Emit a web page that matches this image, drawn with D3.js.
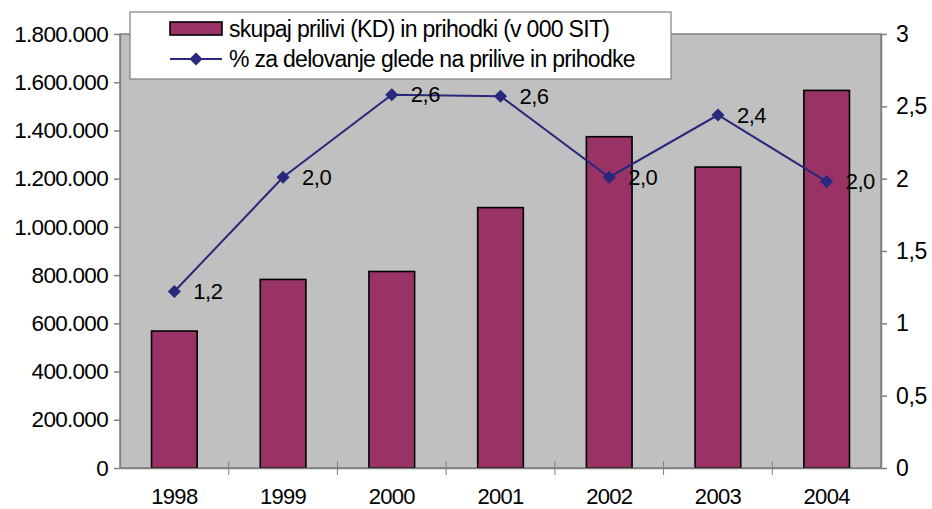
<!DOCTYPE html>
<html>
<head>
<meta charset="utf-8">
<script src="https://cdnjs.cloudflare.com/ajax/libs/d3/7.8.5/d3.min.js"></script>
<style>
  body { margin: 0; background: #fff; }
  svg text { font-family: "Liberation Sans", Arial, sans-serif; fill: #000; }
</style>
</head>
<body>
<svg id="chart" width="932" height="509"></svg>
<script>
// data
var years = ["1998", "1999", "2000", "2001", "2002", "2003", "2004"];
var prilivi = [568000, 782000, 815000, 1080000, 1374000, 1248000, 1566000];
var odstotek = [1.22, 2.01, 2.58, 2.57, 2.01, 2.44, 1.98];
var odstotekLabels = ["1,2", "2,0", "2,6", "2,6", "2,0", "2,4", "2,0"];
var leftTicks = [0, 200000, 400000, 600000, 800000, 1000000, 1200000, 1400000, 1600000, 1800000];
var rightTicks = [0, 0.5, 1, 1.5, 2, 2.5, 3];
var legendLabels = ["skupaj prilivi (KD) in prihodki (v 000 SIT)", "% za delovanje glede na prilive in prihodke"];

// plot box (note: "top" is taken by window.top, so prefixed names)
var pL = 120, pR = 881, pT = 34, pB = 468;
var barColor = "#993366", lineColor = "#28287c";

var svg = d3.select("#chart");

var x = d3.scaleBand().domain(years).range([pL, pR]).paddingInner(0.58).paddingOuter(0.29);
var xCat = d3.scaleBand().domain(years).range([pL, pR]);
var yL = d3.scaleLinear().domain([0, 1800000]).range([pB, pT]);
var yR = d3.scaleLinear().domain([0, 3]).range([pB, pT]);

var fmtL = function(d){ return d3.format(",")(d).replace(/,/g, "."); };
var fmtR = function(d){ return String(d).replace(".", ","); };

// plot area
svg.append("rect")
  .attr("x", pL).attr("y", pT)
  .attr("width", pR - pL).attr("height", pB - pT)
  .attr("fill", "#c0c0c0").attr("stroke", "#808080").attr("stroke-width", 1.5);

// bars
svg.selectAll("rect.bar")
  .data(prilivi)
  .enter()
  .append("rect")
    .attr("class", "bar")
    .attr("x", function(d, i){ return x(years[i]); })
    .attr("y", function(d){ return yL(d); })
    .attr("width", x.bandwidth())
    .attr("height", function(d){ return pB - yL(d); })
    .attr("fill", barColor)
    .attr("stroke", "#000")
    .attr("stroke-width", 1.6);

// left axis
var axL = svg.append("g")
  .attr("transform", "translate(" + pL + ",0)")
  .call(d3.axisLeft(yL).tickValues(leftTicks).tickFormat(fmtL).tickSize(6).tickSizeOuter(0));
axL.selectAll("text").attr("font-size", 22.5).attr("letter-spacing", -0.7).attr("x", -12);

// right axis
var axR = svg.append("g")
  .attr("transform", "translate(" + pR + ",0)")
  .call(d3.axisRight(yR).tickValues(rightTicks).tickFormat(fmtR).tickSize(6).tickSizeOuter(0));
axR.selectAll("text").attr("font-size", 23).attr("letter-spacing", -0.4).attr("x", 15);

// bottom axis: ticks between categories
var axB = svg.append("g")
  .attr("transform", "translate(0," + pB + ")")
  .call(d3.axisBottom(xCat).tickSize(0).tickSizeOuter(0));
axB.selectAll("text").attr("font-size", 22).attr("letter-spacing", -0.7).attr("dy", 0).attr("y", 36);
axB.selectAll(".sep")
  .data(years.slice(1))
  .enter()
  .append("line")
    .attr("class", "sep")
    .attr("x1", function(d){ return xCat(d); })
    .attr("x2", function(d){ return xCat(d); })
    .attr("y1", -7).attr("y2", 7)
    .attr("stroke", "#808080");

svg.selectAll(".domain, .tick line").attr("stroke", "#808080").attr("stroke-width", 1.5);
svg.selectAll(".tick text").attr("fill", "#000");

// line series
var line = d3.line()
  .x(function(d, i){ return xCat(years[i]) + xCat.bandwidth() / 2; })
  .y(function(d){ return yR(d); });

svg.append("path")
  .datum(odstotek)
  .attr("d", line)
  .attr("fill", "none")
  .attr("stroke", lineColor)
  .attr("stroke-width", 2);

var diamond = d3.symbol().type(d3.symbolDiamond2).size(110);
svg.selectAll("path.pt")
  .data(odstotek)
  .enter()
  .append("path")
    .attr("class", "pt")
    .attr("d", diamond)
    .attr("transform", function(d, i){
      return "translate(" + (xCat(years[i]) + xCat.bandwidth() / 2) + "," + yR(d) + ")";
    })
    .attr("fill", lineColor);

svg.selectAll("text.lbl")
  .data(odstotek)
  .enter()
  .append("text")
    .attr("class", "lbl")
    .attr("x", function(d, i){ return xCat(years[i]) + xCat.bandwidth() / 2 + 19; })
    .attr("y", function(d){ return yR(d); })
    .attr("dy", "0.35em")
    .attr("font-size", 22)
    .attr("letter-spacing", -0.5)
    .text(function(d, i){ return odstotekLabels[i]; });

// legend
var lg = svg.append("g");
lg.append("rect")
  .attr("x", 130).attr("y", 12).attr("width", 541).attr("height", 67)
  .attr("fill", "#fff").attr("stroke", "#808080").attr("stroke-width", 1.2);
lg.append("rect")
  .attr("x", 170).attr("y", 22).attr("width", 52).attr("height", 13)
  .attr("fill", barColor).attr("stroke", "#000").attr("stroke-width", 1.6);
lg.append("line")
  .attr("x1", 170).attr("x2", 222).attr("y1", 59).attr("y2", 59)
  .attr("stroke", lineColor).attr("stroke-width", 2);
lg.append("path")
  .attr("d", diamond)
  .attr("transform", "translate(196,59)")
  .attr("fill", lineColor);
lg.selectAll("text.leg")
  .data(legendLabels)
  .enter()
  .append("text")
    .attr("class", "leg")
    .attr("x", 229)
    .attr("y", function(d, i){ return 29 + i * 30; })
    .attr("dy", "0.35em")
    .attr("font-size", 23)
    .attr("letter-spacing", -0.7)
    .text(function(d){ return d; });
</script>
</body>
</html>
